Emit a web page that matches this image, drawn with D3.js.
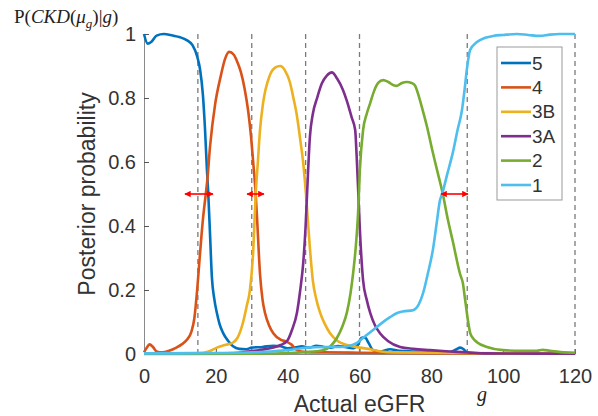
<!DOCTYPE html>
<html>
<head>
<meta charset="utf-8">
<script src="https://cdn.jsdelivr.net/npm/d3@7"></script>
<style>
  body { margin: 0; background: #fff; }
  svg { display: block; }
</style>
</head>
<body>
<div id="container"></div>
<script>
const WIDTH = 598;
const HEIGHT = 416;
const MARGIN = { TOP: 34, BOTTOM: 62, LEFT: 144, RIGHT: 23 };

const width = WIDTH - MARGIN.LEFT - MARGIN.RIGHT;
const height = HEIGHT - MARGIN.TOP - MARGIN.BOTTOM;

// ---- data ----
const categories = ['5', '4', '3B', '3A', '2', '1'];
const colours = ['#0072BD', '#D95319', '#EDB120', '#7E2F8E', '#77AC30', '#4DBEEE'];

const xTicks = [0, 20, 40, 60, 80, 100, 120];
const yTicks = [0, 0.2, 0.4, 0.6, 0.8, 1];
const boundaries = [15, 30, 45, 60, 90, 120]; // dashed stage limits

// [eGFR, probability]
const stage5 = [[0,1.0],[1,0.97],[2,0.975],[3.5,0.995],[5.5,1.0],[8,0.995],[10,0.99],[12,0.98],[13.5,0.965],
  [14.8,0.93],[15.6,0.89],[16.4,0.81],[17,0.70],[17.5,0.58],[17.9,0.5],[18.4,0.37],[18.9,0.24],[19.6,0.17],
  [20.3,0.128],[21,0.095],[22,0.066],[23.5,0.04],[24.8,0.024],[26.5,0.016],[28.5,0.015],[30,0.02],[33,0.022],
  [36,0.026],[38,0.024],[40,0.018],[42,0.02],[44,0.024],[46,0.02],[48,0.026],[50,0.022],[52,0.02],[54,0.025],
  [56,0.022],[58,0.018],[59.5,0.028],[60.5,0.05],[61.5,0.052],[62.5,0.035],[63.8,0.012],[66,0.008],[68.5,0.015],
  [71,0.01],[75,0.008],[80,0.006],[85,0.006],[87,0.015],[88,0.02],[89,0.015],[90,0.004],[95,0.002],[120,0.001]];

const stage4 = [[0,0.005],[0.8,0.02],[1.5,0.03],[2.5,0.022],[3.5,0.008],[5,0.005],[7,0.01],[9,0.02],[10.5,0.03],
  [12,0.045],[13.2,0.07],[14,0.11],[14.8,0.2],[15.5,0.3],[16.4,0.42],[17.2,0.5],[17.6,0.54],[18.4,0.65],
  [19.8,0.78],[21.4,0.87],[22.5,0.92],[23.7,0.944],[25,0.935],[25.9,0.915],[27,0.88],[28,0.83],[29,0.76],
  [29.8,0.68],[30.4,0.6],[31.1,0.5],[31.5,0.42],[32.3,0.25],[33,0.17],[33.7,0.128],[34.8,0.09],[36,0.065],
  [38,0.045],[39.8,0.038],[41,0.03],[42.6,0.012],[45,0.006],[50,0.005],[60,0.004],[70,0.003],[90,0.002],[120,0.001]];

const stage3B = [[0,0.002],[15,0.003],[18,0.008],[20.3,0.02],[22.5,0.028],[24.8,0.036],[26,0.05],[27.6,0.1],
  [28.6,0.15],[29.5,0.2],[30.4,0.32],[31.1,0.5],[31.7,0.6],[32.3,0.7],[33.1,0.78],[35,0.87],[36.5,0.895],
  [37.9,0.90],[39.3,0.885],[40.6,0.85],[41.6,0.8],[42.5,0.75],[43.5,0.67],[44.3,0.6],[45.1,0.5],[45.6,0.42],
  [46.2,0.33],[47,0.23],[48,0.17],[49,0.13],[50.3,0.095],[51.8,0.065],[54,0.04],[56.5,0.028],[60,0.02],
  [63,0.015],[66,0.008],[70,0.005],[90,0.003],[120,0.001]];

const stage3A = [[0,0.001],[25,0.002],[28,0.006],[32,0.012],[36,0.02],[38,0.028],[39.8,0.04],[41.2,0.075],
  [42.6,0.13],[43.5,0.2],[44.3,0.28],[45,0.4],[45.4,0.5],[46.2,0.68],[47,0.75],[48.2,0.8],[49.5,0.845],
  [50.9,0.87],[52.3,0.88],[53.8,0.86],[55.4,0.825],[56.5,0.79],[57.8,0.74],[58.8,0.70],[59.2,0.62],[59.6,0.52],
  [60.1,0.39],[61,0.23],[62,0.17],[63,0.128],[64.3,0.09],[65.7,0.065],[68,0.04],[71.3,0.022],[75,0.016],
  [79.6,0.012],[85,0.008],[90,0.005],[95,0.002],[120,0.001]];

const stage2 = [[0,0],[30,0.001],[40.6,0.003],[45,0.006],[49.8,0.012],[52,0.025],[53.7,0.05],[55.2,0.085],
  [56.5,0.13],[57.5,0.19],[58.2,0.25],[59,0.34],[59.6,0.44],[60.1,0.575],[61,0.7],[62,0.75],[63,0.785],
  [64,0.82],[65.2,0.847],[66.6,0.856],[68,0.85],[69.5,0.84],[70.4,0.838],[71.8,0.847],[73.2,0.85],[74.5,0.847],
  [75.4,0.84],[76.4,0.81],[77.4,0.77],[78.8,0.71],[80.2,0.64],[81.7,0.57],[83.2,0.5],[84.6,0.42],[85.9,0.356],
  [88,0.25],[88.8,0.22],[89.4,0.17],[89.9,0.128],[90.4,0.09],[90.8,0.066],[91.7,0.048],[92.7,0.037],
  [95.5,0.022],[100,0.012],[105,0.01],[109.4,0.01],[111,0.013],[113,0.01],[116,0.006],[120,0.004]];

const stage1 = [[0,0.002],[10,0.002],[20,0.003],[30,0.005],[35,0.008],[40,0.012],[45.4,0.02],[50,0.022],
  [54.6,0.022],[57,0.025],[59.3,0.035],[61.5,0.055],[63.8,0.075],[66,0.095],[68.5,0.115],[70.5,0.128],
  [72.1,0.133],[74.9,0.137],[76.5,0.155],[77.7,0.19],[79,0.25],[80.5,0.33],[81.5,0.41],[82.4,0.48],[83,0.5],
  [84.5,0.565],[86,0.63],[87.3,0.7],[88.5,0.76],[89.3,0.83],[89.9,0.89],[90.8,0.95],[92.7,0.975],[95,0.988],
  [97.2,0.994],[100,0.997],[103.8,1.0],[107,0.997],[110.2,0.994],[113,0.998],[115.8,1.0],[120,1.0]];

const seriesValues = [stage5, stage4, stage3B, stage3A, stage2, stage1];

// red double arrows at p = 0.5
const arrowFrom = [11.4, 28.7, 82.7];
const arrowTo = [19.2, 33.4, 90.2];
const arrowLevel = 0.5;

// ---- drawing ----
const svg = d3.select('#container')
  .append('svg')
    .attr('width', WIDTH)
    .attr('height', HEIGHT);

const container = svg.append('g')
    .attr('transform', `translate(${MARGIN.LEFT}, ${MARGIN.TOP})`);

const x = d3.scaleLinear().domain([0, 120]).range([0, width]);
const y = d3.scaleLinear().domain([0, 1]).range([height, 0]);

const defs = svg.append('defs');
defs.append('marker')
    .attr('id', 'head')
    .attr('viewBox', '0 -5 10 10')
    .attr('refX', 9)
    .attr('refY', 0)
    .attr('markerWidth', 4)
    .attr('markerHeight', 4)
    .attr('orient', 'auto-start-reverse')
  .append('path')
    .attr('d', 'M0,-5L10,0L0,5Z')
    .attr('fill', '#f00');

// axes (MATLAB style, ticks inside)
const xAxis = container.append('g')
    .attr('transform', `translate(0, ${height})`)
    .call(d3.axisBottom(x).tickValues(xTicks).tickSizeInner(-5).tickSizeOuter(0).tickPadding(15));

const yAxis = container.append('g')
    .call(d3.axisLeft(y).tickValues(yTicks).tickSizeInner(-5).tickSizeOuter(0).tickPadding(8)
      .tickFormat(d => d3.format('')(d)));

[xAxis, yAxis].forEach(a => {
  a.select('.domain').attr('stroke', '#8a8a8a');
  a.selectAll('.tick line').attr('stroke', '#555');
  a.selectAll('.tick text')
    .attr('fill', '#333')
    .style('font-family', 'Liberation Sans, Arial, sans-serif')
    .style('font-size', '20px');
});

// dashed boundaries
container.selectAll('.bound')
  .data(boundaries)
  .enter()
  .append('line')
    .attr('class', 'bound')
    .attr('x1', d => x(d)).attr('x2', d => x(d))
    .attr('y1', y(1)).attr('y2', y(0))
    .attr('stroke', '#7a7a7a')
    .attr('stroke-width', 1.3)
    .attr('stroke-dasharray', '5,4');

// curves
const line = d3.line()
    .x(d => x(d[0]))
    .y(d => y(d[1]))
    .curve(d3.curveMonotoneX);

container.selectAll('.curve')
  .data(seriesValues)
  .enter()
  .append('path')
    .attr('class', 'curve')
    .attr('d', line)
    .attr('fill', 'none')
    .attr('stroke', (d, i) => colours[i])
    .attr('stroke-width', 2.6)
    .attr('stroke-linejoin', 'round');

// arrows
container.selectAll('.arrow')
  .data(arrowFrom)
  .enter()
  .append('line')
    .attr('class', 'arrow')
    .attr('x1', d => x(d))
    .attr('x2', (d, i) => x(arrowTo[i]))
    .attr('y1', y(arrowLevel)).attr('y2', y(arrowLevel))
    .attr('stroke', '#f00')
    .attr('stroke-width', 1.6)
    .attr('marker-start', 'url(#head)')
    .attr('marker-end', 'url(#head)');

// legend
const legend = svg.append('g').attr('transform', 'translate(497, 47)');
legend.append('rect')
    .attr('width', 65).attr('height', 153)
    .attr('fill', '#fff')
    .attr('stroke', '#999')
    .attr('stroke-width', 1);

const items = legend.selectAll('.item')
  .data(categories)
  .enter()
  .append('g')
    .attr('class', 'item')
    .attr('transform', (d, i) => `translate(0, ${16 + i * 24.4})`);

items.append('line')
    .attr('x1', 4).attr('x2', 34)
    .attr('stroke', (d, i) => colours[i])
    .attr('stroke-width', 2.6);

items.append('text')
    .attr('x', 35)
    .attr('dy', '0.35em')
    .text(d => d)
    .attr('fill', '#333')
    .style('font-family', 'Liberation Sans, Arial, sans-serif')
    .style('font-size', '19px');

// axis titles
svg.append('text')
    .attr('x', MARGIN.LEFT + width / 2)
    .attr('y', 412)
    .attr('text-anchor', 'middle')
    .attr('fill', '#333')
    .style('font-family', 'Liberation Sans, Arial, sans-serif')
    .style('font-size', '23px')
    .text('Actual eGFR');

svg.append('text')
    .attr('transform', `translate(95, ${MARGIN.TOP + height / 2}) rotate(-90)`)
    .attr('text-anchor', 'middle')
    .attr('fill', '#333')
    .style('font-family', 'Liberation Sans, Arial, sans-serif')
    .style('font-size', '23px')
    .text('Posterior probability');

// math labels
const mathLabel = svg.append('text')
    .attr('x', 14)
    .attr('y', 23)
    .attr('fill', '#222')
    .style('font-family', 'Liberation Serif, DejaVu Serif, serif')
    .style('font-size', '19px');
mathLabel.append('tspan').text('P(');
mathLabel.append('tspan').style('font-style', 'italic').text('CKD');
mathLabel.append('tspan').text('(');
mathLabel.append('tspan').style('font-style', 'italic').text('μ');
mathLabel.append('tspan').style('font-style', 'italic').style('font-size', '13px').attr('dy', 5).text('g');
mathLabel.append('tspan').attr('dy', -5).text(')|');
mathLabel.append('tspan').style('font-style', 'italic').text('g');
mathLabel.append('tspan').text(')');

svg.append('text')
    .attr('x', 477)
    .attr('y', 401)
    .attr('fill', '#222')
    .style('font-family', 'Liberation Serif, DejaVu Serif, serif')
    .style('font-style', 'italic')
    .style('font-size', '20px')
    .text('g');
</script>
</body>
</html>
